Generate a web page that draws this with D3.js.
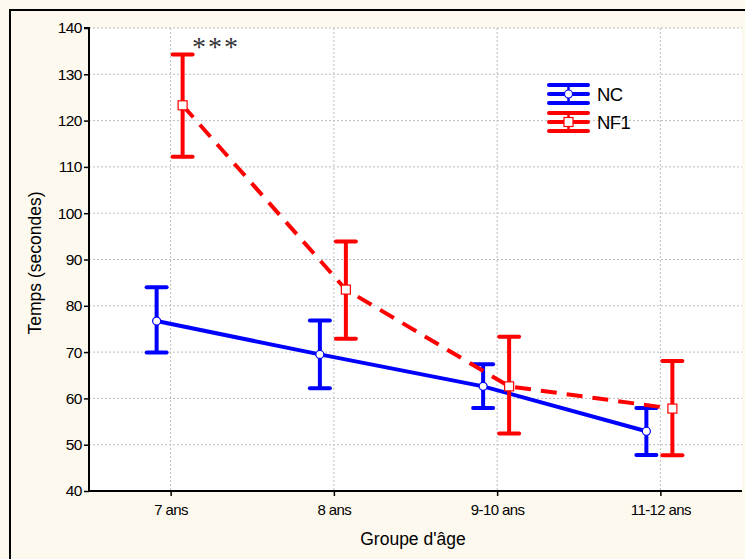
<!DOCTYPE html>
<html><head><meta charset="utf-8">
<script src="https://cdn.jsdelivr.net/npm/d3@7"></script>
<style>
body{margin:0;background:#fff;}
svg{display:block;font-family:"Liberation Sans",Arial,sans-serif;}
</style></head><body>
<svg id="c" width="745" height="559"></svg>
<script>
const categories = ["7 ans","8 ans","9-10 ans","11-12 ans"];
const ncMean = [76.7, 69.5, 62.6, 52.9];
const ncLow  = [69.9, 62.2, 57.9, 47.8];
const ncHigh = [84.0, 76.8, 67.4, 57.9];
const nf1Mean = [123.3, 83.5, 62.6, 57.8];
const nf1Low  = [112.2, 72.9, 52.4, 47.7];
const nf1High = [134.3, 93.9, 73.3, 68.1];
const yTicks = [40,50,60,70,80,90,100,110,120,130,140];

const svg = d3.select("#c");
svg.append("rect").attr("x",0).attr("y",0).attr("width",745).attr("height",559).attr("fill","#fdf9ee");
svg.append("rect").attr("x",10).attr("y",10).attr("width",760).attr("height",580)
  .attr("fill","none").attr("stroke","#000").attr("stroke-width",2);

const L=89, R=742, T=28, B=491;
svg.append("rect").attr("x",L).attr("y",T).attr("width",R-L).attr("height",B-T).attr("fill","#fff");

const x = d3.scalePoint().domain(categories).range([L,R]).padding(0.5);
const y = d3.scaleLinear().domain([40,140]).range([B,T]);

// grid
const g = svg.append("g");
g.selectAll(".hg").data(yTicks.slice(1)).join("line")
  .attr("x1",L).attr("x2",R).attr("y1",d=>y(d)).attr("y2",d=>y(d))
  .attr("stroke","#bdbdbd").attr("stroke-width",1).attr("stroke-dasharray","2,2");
g.selectAll(".vg").data(categories).join("line")
  .attr("x1",d=>x(d)).attr("x2",d=>x(d)).attr("y1",T).attr("y2",B)
  .attr("stroke","#bdbdbd").attr("stroke-width",1).attr("stroke-dasharray","2,2");

// axes
const ya = svg.append("g").attr("transform",`translate(${L},0)`)
  .call(d3.axisLeft(y).tickValues(yTicks).tickSize(5).tickPadding(2));
ya.select(".domain").attr("stroke-width",2).attr("d",`M-5,${T}H0V${B}`);
ya.selectAll("text").attr("font-size",15.5).attr("letter-spacing","-0.5").attr("fill","#000");
ya.selectAll(".tick line").attr("stroke-width",1.5);

const xa = svg.append("g").attr("transform",`translate(0,${B})`)
  .call(d3.axisBottom(x).tickSize(5).tickPadding(8));
xa.select(".domain").attr("stroke-width",2).attr("d",`M${L},0H${R}`);
xa.selectAll("text").attr("font-size",15).attr("letter-spacing","-0.6").attr("fill","#000");
xa.selectAll(".tick line").attr("stroke-width",1.5);

svg.append("text").attr("x",413).attr("y",545).attr("text-anchor","middle")
  .attr("font-size",17.5).text("Groupe d'âge");
svg.append("text").attr("transform","translate(41,263) rotate(-90)").attr("text-anchor","middle")
  .attr("font-size",17.5).text("Temps (secondes)");

function series(mean,low,high,color,off,dashed,marker){
  const pts = categories.map((c,i)=>({x:x(c)+off,m:mean[i],lo:low[i],hi:high[i]}));
  const line = d3.line().x(d=>d.x).y(d=>y(d.m));
  svg.append("path").datum(pts).attr("d",line).attr("fill","none").attr("stroke",color)
    .attr("stroke-width",4).attr("stroke-dasharray",dashed?"16,10":null);
  const eb = svg.append("g");
  eb.selectAll(".v").data(pts).join("line").attr("x1",d=>d.x).attr("x2",d=>d.x)
    .attr("y1",d=>y(d.lo)).attr("y2",d=>y(d.hi)).attr("stroke",color).attr("stroke-width",4);
  ["lo","hi"].forEach(k=>{
    eb.selectAll(".c"+k).data(pts).join("line").attr("x1",d=>d.x-10).attr("x2",d=>d.x+10)
      .attr("y1",d=>y(d[k])).attr("y2",d=>y(d[k])).attr("stroke",color).attr("stroke-width",4)
      .attr("stroke-linecap","round");
  });
  if(marker==="circle"){
    svg.selectAll(null).data(pts).join("circle").attr("cx",d=>d.x).attr("cy",d=>y(d.m)).attr("r",4)
      .attr("fill","#fff").attr("stroke",color).attr("stroke-width",1.2);
  } else {
    svg.selectAll(null).data(pts).join("rect").attr("x",d=>d.x-4.5).attr("y",d=>y(d.m)-4.5)
      .attr("width",9).attr("height",9).attr("fill","#fff").attr("stroke",color).attr("stroke-width",1.2);
  }
}
series(ncMean,ncLow,ncHigh,"#0000ff",-14,false,"circle");
series(nf1Mean,nf1Low,nf1High,"#ff0000",12,true,"square");

svg.append("text").attr("x",216).attr("y",56).attr("text-anchor","middle")
  .attr("font-family","'Liberation Serif','Times New Roman',serif").attr("font-size",28)
  .attr("letter-spacing","2").attr("fill","#333").text("***");

// legend
function legendItem(cy,color,marker,label){
  const lg = svg.append("g");
  const x0=549,x1=588,xc=568.5;
  [cy-9,cy,cy+9].forEach(yy=>lg.append("line").attr("x1",x0).attr("x2",x1).attr("y1",yy).attr("y2",yy)
    .attr("stroke",color).attr("stroke-width",4).attr("stroke-linecap","round"));
  lg.append("line").attr("x1",xc).attr("x2",xc).attr("y1",cy-9).attr("y2",cy+9).attr("stroke",color).attr("stroke-width",2.5);
  if(marker==="circle") lg.append("circle").attr("cx",xc).attr("cy",cy).attr("r",4).attr("fill","#fff").attr("stroke",color).attr("stroke-width",1.2);
  else lg.append("rect").attr("x",xc-4.5).attr("y",cy-4.5).attr("width",9).attr("height",9).attr("fill","#fff").attr("stroke",color).attr("stroke-width",1.2);
  lg.append("text").attr("x",597).attr("y",cy+7).attr("font-size",18.5).attr("letter-spacing","-0.6").text(label);
}
legendItem(94,"#0000ff","circle","NC");
legendItem(122,"#ff0000","square","NF1");
</script></body></html>
